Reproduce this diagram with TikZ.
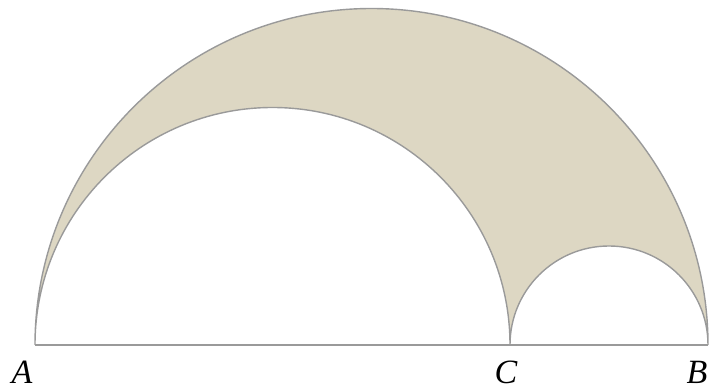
\documentclass[tikz,border=0pt]{standalone}
\usepackage{fontspec}
\setmainfont{Liberation Serif}
\usepackage{tikz}
\usetikzlibrary{positioning}
\definecolor{Shade}{HTML}{DDD7C3}
\definecolor{Edge}{HTML}{9A9A9A}
\tikzset{
  rim/.style={draw=Edge, line width=1.4pt},
  region/.style={rim, fill=Shade},
  pointlabel/.style={inner sep=0pt, font=\fontsize{34}{38}\selectfont\itshape}
}

\begin{document}
\begin{tikzpicture}[x=1pt, y=1pt]
  \useasboundingbox (0,0) rectangle (710,391);
  \coordinate (A) at (35,46);
  \coordinate (C) at (510,46);
  \coordinate (B) at (708,46);

  \path[region] (A) arc[start angle=180, end angle=0, radius=336.5]
    arc[start angle=0, end angle=180, radius=99]
    arc[start angle=0, end angle=180, radius=237.5] -- cycle;
  \draw[rim] (A) -- (B);

  \node[pointlabel] (labA) at (22,19) {A};
  \node[pointlabel] (labC) at (506,19) {C};
  \node[pointlabel] (labB) at (697,19) {B};
\end{tikzpicture}
\end{document}
